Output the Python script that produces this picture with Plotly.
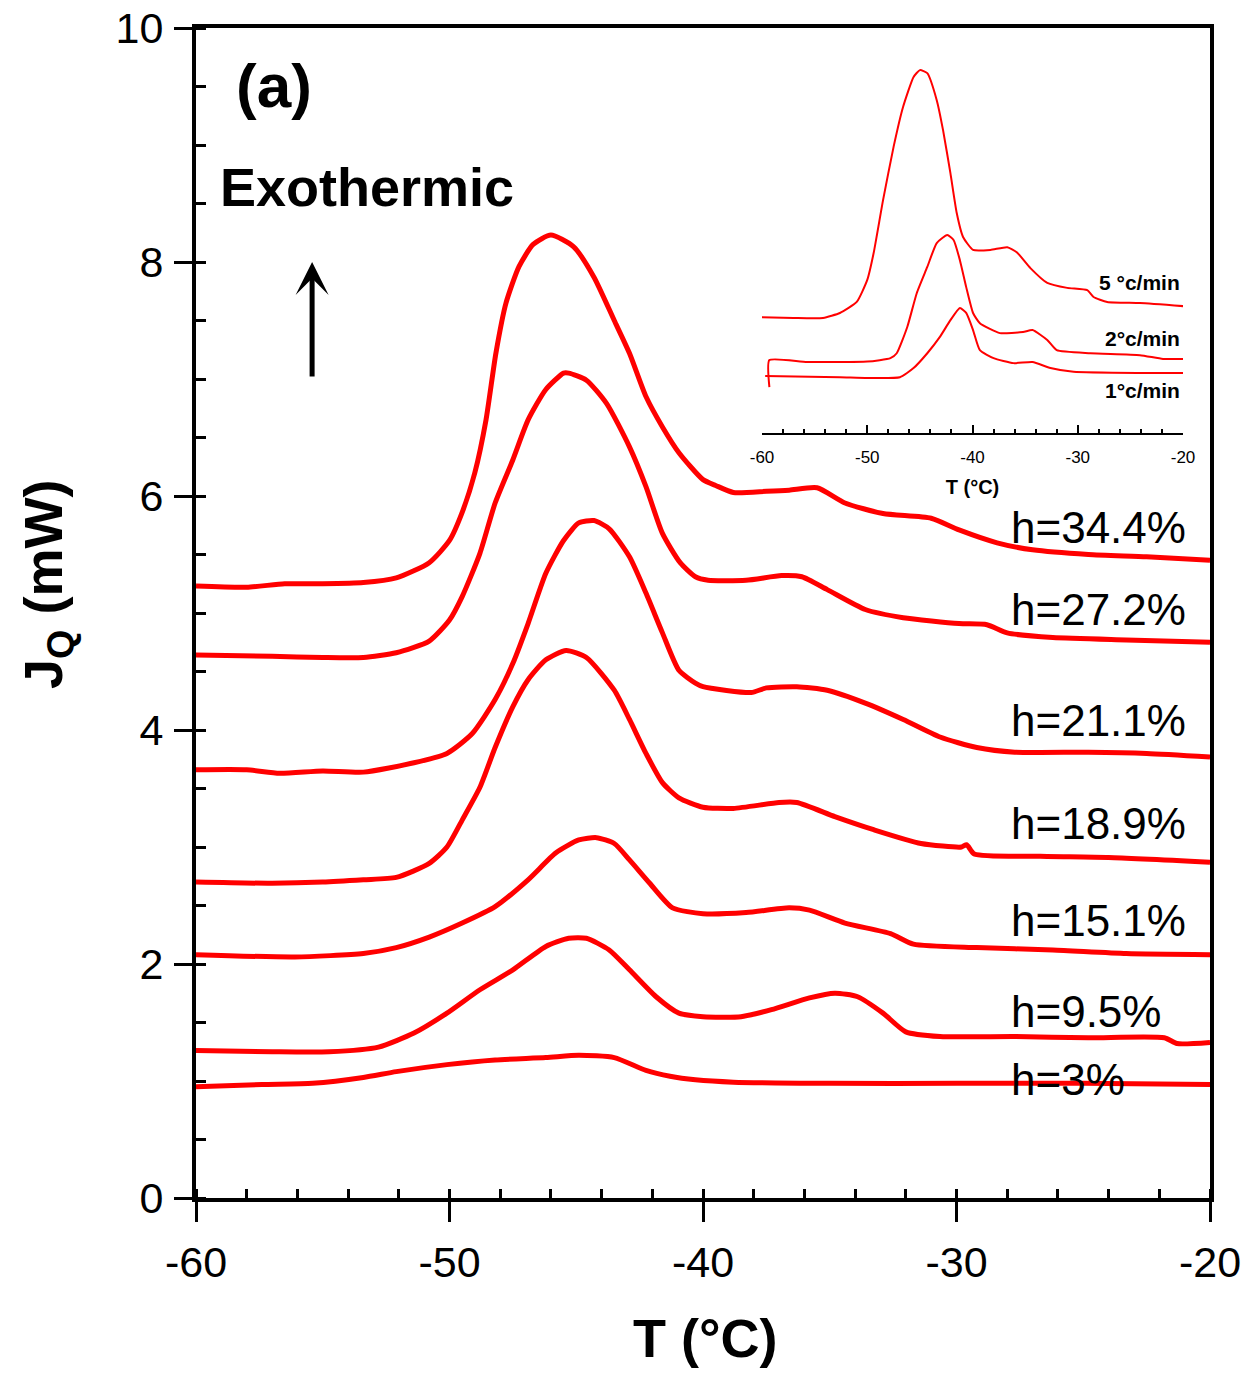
import plotly.graph_objects as go

# ---- Main DSC traces: heat flow J_Q (mW) vs temperature T (°C) ----
t_344 = [-60, -58, -56.5, -55, -53.4, -52.1, -50.8, -50.0, -49.5, -49.0, -48.56, -48.17, -47.77, -47.26,
         -46.7, -46.0, -45.1, -44.3, -43.5, -42.9, -42.25, -41.6, -40.95, -40.0, -39.5, -38.8, -37.5,
         -36.6, -35.5, -34.4, -32.9, -31.0, -29.9, -28.4, -27.0, -24.8, -22.5, -20]
j_344 = [5.23, 5.22, 5.25, 5.25, 5.26, 5.30, 5.43, 5.62, 5.86, 6.20, 6.65, 7.22, 7.65, 7.96,
         8.15, 8.23, 8.13, 7.87, 7.50, 7.22, 6.85, 6.59, 6.37, 6.14, 6.09, 6.03, 6.04,
         6.05, 6.07, 5.94, 5.85, 5.81, 5.71, 5.60, 5.54, 5.50, 5.48, 5.45]

t_272 = [-60, -57, -55, -53.4, -52.1, -50.8, -50.0, -49.5, -48.8, -48.2, -47.5, -46.9, -46.2, -45.5,
         -45.3, -44.6, -43.8, -42.9, -42.25, -41.6, -40.9, -40.3, -39.8, -38.3, -36.9, -36.1, -35.1,
         -33.6, -32.1, -29.9, -28.8, -28.0, -26.2, -23.3, -20]
j_272 = [4.64, 4.63, 4.62, 4.62, 4.66, 4.76, 4.94, 5.14, 5.51, 5.94, 6.31, 6.65, 6.91, 7.05,
         7.05, 6.99, 6.79, 6.42, 6.08, 5.68, 5.43, 5.31, 5.28, 5.28, 5.32, 5.31, 5.20,
         5.03, 4.96, 4.91, 4.90, 4.83, 4.79, 4.77, 4.75]

t_211 = [-60, -58, -56.7, -55, -53.4, -51.4, -50.1, -49.1, -48.2, -47.5, -46.9, -46.2, -45.5, -44.9,
         -44.3, -43.7, -42.9, -42.25, -41.6, -40.95, -40.3, -40.0, -38.1, -37.5, -36.3, -35.1, -33.6,
         -32.1, -30.65, -29.2, -27.7, -24.8, -22.5, -20]
j_211 = [3.66, 3.66, 3.63, 3.65, 3.64, 3.72, 3.80, 3.97, 4.26, 4.57, 4.91, 5.34, 5.62, 5.77,
         5.79, 5.72, 5.48, 5.17, 4.83, 4.51, 4.40, 4.37, 4.32, 4.36, 4.37, 4.34, 4.23,
         4.09, 3.94, 3.85, 3.81, 3.81, 3.80, 3.77]

t_189 = [-60, -57, -55, -53.4, -52.1, -50.8, -50.1, -49.5, -48.8, -48.2, -47.5, -46.9, -46.2, -45.4,
         -44.6, -43.5, -42.9, -42.25, -41.6, -40.95, -40.0, -38.8, -37.0, -36.3, -34.8, -33.3, -31.4,
         -29.8, -29.6, -29.3, -26.7, -24.0, -20]
j_189 = [2.70, 2.69, 2.70, 2.72, 2.74, 2.86, 3.00, 3.23, 3.51, 3.85, 4.20, 4.43, 4.60, 4.68,
         4.62, 4.34, 4.09, 3.80, 3.55, 3.42, 3.34, 3.33, 3.38, 3.38, 3.26, 3.15, 3.03,
         3.00, 3.02, 2.94, 2.92, 2.91, 2.87]

t_151 = [-60, -56.1, -53.4, -52.1, -50.8, -49.5, -48.2, -46.9, -45.8, -44.9, -44.2, -43.5, -42.9,
         -42.1, -41.2, -40.0, -38.3, -36.6, -35.8, -34.4, -32.6, -31.7, -29.2, -26.2, -23.3, -20]
j_151 = [2.08, 2.06, 2.09, 2.14, 2.23, 2.35, 2.49, 2.72, 2.95, 3.06, 3.08, 3.03, 2.89,
         2.69, 2.48, 2.43, 2.44, 2.48, 2.46, 2.35, 2.26, 2.17, 2.14, 2.12, 2.09, 2.08]

t_95 = [-60, -57, -54.75, -52.8, -51.4, -50.1, -48.8, -47.5, -46.2, -45.3, -44.6, -43.7, -42.9,
        -41.85, -40.95, -40.0, -38.5, -37.3, -35.8, -34.8, -33.9, -32.9, -32.0, -30.65, -27.7,
        -24.8, -21.8, -21.3, -20]
j_95 = [1.26, 1.25, 1.25, 1.29, 1.41, 1.58, 1.78, 1.95, 2.15, 2.22, 2.22, 2.12, 1.95,
        1.72, 1.58, 1.55, 1.55, 1.61, 1.71, 1.75, 1.72, 1.58, 1.42, 1.38, 1.38,
        1.37, 1.37, 1.32, 1.33]

t_3 = [-60, -57.4, -55.4, -53.4, -52.1, -50.1, -48.2, -46.2, -44.9, -43.5, -42.25, -41.3, -40.3,
       -38.8, -35, -30, -25, -20]
j_3 = [0.95, 0.97, 0.98, 1.03, 1.08, 1.14, 1.18, 1.20, 1.22, 1.20, 1.09, 1.04, 1.01,
       0.99, 0.98, 0.98, 0.98, 0.97]

main_series = [
    ("h=34.4%", t_344, j_344, 5.735),
    ("h=27.2%", t_272, j_272, 5.03),
    ("h=21.1%", t_211, j_211, 4.085),
    ("h=18.9%", t_189, j_189, 3.205),
    ("h=15.1%", t_151, j_151, 2.376),
    ("h=9.5%", t_95, j_95, 1.59),
    ("h=3%", t_3, j_3, 1.01),
]

# ---- Inset: cooling-rate comparison (arbitrary heat-flow units) ----
t_r5 = [-60.1, -57, -54.2, -52.6, -51.0, -50.0, -49.4, -48.5, -47.5, -46.6, -45.6, -45.0, -44.3, -43.4,
        -42.8, -42.1, -41.5, -40.9, -39.95, -38.3, -36.7, -35.8, -34.5, -32.9, -31.0, -29.1, -28.5,
        -27.2, -24.1, -20]
v_r5 = [3.05, 3.03, 3.03, 3.16, 3.45, 4.03, 4.73, 6.13, 7.53, 8.58, 9.37, 9.55, 9.47, 8.76,
        7.97, 6.84, 5.79, 5.16, 4.82, 4.82, 4.89, 4.76, 4.34, 3.95, 3.82, 3.76, 3.58,
        3.45, 3.42, 3.34]

t_r2 = [-59.3, -59.3, -55.7, -50, -47.8, -47.2, -46.2, -45.3, -44.3, -43.4, -42.4, -41.8, -41.2,
        -40.6, -39.95, -39.3, -37.4, -35.2, -34.3, -32.9, -32.0, -28.8, -24.1, -21.9, -20]
v_r2 = [1.21, 1.92, 1.87, 1.88, 1.97, 2.10, 2.79, 3.68, 4.37, 5.00, 5.21, 5.08, 4.55,
        3.84, 3.16, 2.89, 2.63, 2.66, 2.71, 2.45, 2.18, 2.10, 2.05, 1.95, 1.95]

t_r1 = [-59.7, -52.6, -50.0, -46.9, -45.6, -44.3, -43.1, -42.1, -41.2, -40.6, -39.95, -39.3, -38.0,
        -36.1, -34.3, -32.6, -30.4, -24.1, -20]
v_r1 = [1.50, 1.47, 1.45, 1.47, 1.71, 2.10, 2.53, 2.97, 3.29, 3.16, 2.71, 2.18, 1.97,
        1.84, 1.87, 1.71, 1.61, 1.58, 1.58]

inset_series = [
    ("5 °c/min", t_r5, v_r5, 3.97),
    ("2°c/min", t_r2, v_r2, 2.50),
    ("1°c/min", t_r1, v_r1, 1.13),
]

x_ticks = [-60, -50, -40, -30, -20]
x_ticktext = ["-60", "-50", "-40", "-30", "-20"]
y_ticks = [0, 2, 4, 6, 8, 10]

FONT = "Arial, Liberation Sans, sans-serif"
RED = "#ff0000"

fig = go.Figure()

for name, t, j, _ in main_series:
    fig.add_trace(go.Scatter(x=t, y=j, mode="lines", name=name,
                             line=dict(color=RED, width=5, shape="spline", smoothing=0.6),
                             xaxis="x", yaxis="y"))

for name, t, v, _ in inset_series:
    fig.add_trace(go.Scatter(x=t, y=v, mode="lines", name=name,
                             line=dict(color=RED, width=2, shape="spline", smoothing=0.5),
                             xaxis="x2", yaxis="y2"))

annotations = []
for name, t, j, ylab in main_series:
    annotations.append(dict(x=-27.93, y=ylab, xref="x", yref="y", text=name, showarrow=False,
                            xanchor="left", yanchor="middle",
                            font=dict(family=FONT, size=44, color="black")))
for name, t, v, ylab in inset_series:
    annotations.append(dict(x=-20.1, y=ylab, xref="x2", yref="y2", text="<b>%s</b>" % name,
                            showarrow=False, xanchor="right", yanchor="middle",
                            font=dict(family=FONT, size=21, color="black")))

annotations += [
    dict(x=0.077, y=0.951, xref="paper", yref="paper", text="<b>(a)</b>", showarrow=False,
         xanchor="center", yanchor="middle",
         font=dict(family=FONT, size=62, color="black")),
    dict(x=0.1686, y=0.8641, xref="paper", yref="paper", text="<b>Exothermic</b>", showarrow=False,
         xanchor="center", yanchor="middle",
         font=dict(family=FONT, size=54, color="black")),
    dict(x=-55.42, y=8.0, xref="x", yref="y", text="", showarrow=True, ax=0, ay=116,
         arrowhead=3, arrowwidth=5, arrowsize=1.1, arrowcolor="black", standoff=0),
    dict(x=0.502, y=-0.1197, xref="paper", yref="paper", text="<b>T (°C)</b>", showarrow=False,
         xanchor="center", yanchor="middle",
         font=dict(family=FONT, size=54, color="black")),
    dict(x=-0.147, y=0.5248, xref="paper", yref="paper", text="<b>J<sub>Q</sub> (mW)</b>",
         showarrow=False, textangle=-90, xanchor="center", yanchor="middle",
         font=dict(family=FONT, size=54, color="black")),
]

fig.update_layout(
    width=1258, height=1373,
    margin=dict(l=196, r=48, t=28, b=175, autoexpand=False),
    paper_bgcolor="white", plot_bgcolor="white",
    showlegend=False,
    font=dict(family=FONT, color="black"),
    xaxis=dict(range=[-60, -20], showgrid=False, zeroline=False, automargin=False,
               showline=True, linewidth=4, linecolor="black", mirror=True,
               ticks="outside", ticklen=20, tickwidth=3, tickcolor="black",
               tickmode="array", tickvals=x_ticks, ticktext=x_ticktext,
               tickfont=dict(family=FONT, size=43), ticklabelstandoff=3,
               minor=dict(ticks="inside", ticklen=9, tickwidth=3, tickcolor="black",
                          tick0=-60, dtick=2, showgrid=False)),
    yaxis=dict(range=[0, 10], showgrid=False, zeroline=False, automargin=False,
               showline=True, linewidth=4, linecolor="black", mirror=True,
               ticks="outside", ticklen=18, tickwidth=3, tickcolor="black",
               tickmode="array", tickvals=y_ticks,
               tickfont=dict(family=FONT, size=43), ticklabelstandoff=2,
               minor=dict(ticks="inside", ticklen=10, tickwidth=3, tickcolor="black",
                          tick0=0, dtick=0.5, showgrid=False)),
    # inner halves of the major ticks
    xaxis3=dict(overlaying="x", anchor="y", range=[-60, -20], showgrid=False, zeroline=False,
                automargin=False, showline=False, ticks="inside", ticklen=17, tickwidth=3,
                tickcolor="black", tickmode="array", tickvals=x_ticks, showticklabels=False),
    yaxis3=dict(overlaying="y", anchor="x", range=[0, 10], showgrid=False, zeroline=False,
                automargin=False, showline=False, ticks="inside", ticklen=18, tickwidth=3,
                tickcolor="black", tickmode="array", tickvals=y_ticks, showticklabels=False),
    # inset axes
    xaxis2=dict(domain=[0.5582, 0.9734], anchor="y2", range=[-60, -20], showgrid=False,
                zeroline=False, automargin=False, showline=True, linewidth=2, linecolor="black",
                ticks="inside", ticklen=8, tickwidth=2, tickcolor="black",
                tickmode="array", tickvals=x_ticks, ticktext=x_ticktext,
                tickfont=dict(family=FONT, size=17), ticklabelstandoff=8,
                minor=dict(ticks="inside", ticklen=4, tickwidth=2, tickcolor="black",
                           tick0=-60, dtick=2, showgrid=False),
                title=dict(text="<b>T (°C)</b>", font=dict(family=FONT, size=20), standoff=14)),
    yaxis2=dict(domain=[0.6538, 0.9786], anchor="x2", range=[0, 10], visible=False),
    annotations=annotations,
)

fig.write_html("out.html")
